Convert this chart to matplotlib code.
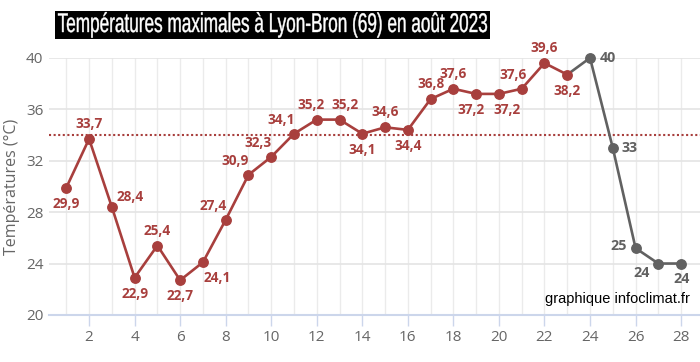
import matplotlib.pyplot as plt
from matplotlib.ticker import MultipleLocator
from matplotlib.textpath import TextPath
from matplotlib.font_manager import FontProperties
from matplotlib.patches import PathPatch, Rectangle
from matplotlib.transforms import Affine2D, IdentityTransform

# observed days (red) and forecast days (grey)
days_obs = list(range(1, 24))
temp_obs = [29.9, 33.7, 28.4, 22.9, 25.4, 22.7, 24.1, 27.4, 30.9, 32.3, 34.1, 35.2,
            35.2, 34.1, 34.6, 34.4, 36.8, 37.6, 37.2, 37.2, 37.6, 39.6, 38.7]
labels_obs = ['29,9', '33,7', '28,4', '22,9', '25,4', '22,7', '24,1', '27,4', '30,9',
              '32,3', '34,1', '35,2', '35,2', '34,1', '34,6', '34,4', '36,8', '37,6',
              '37,2', '37,2', '37,6', '39,6', '38,2']
days_prev = [23, 24, 25, 26, 27, 28]
temp_prev = [38.7, 40, 33, 25.2, 24, 24]
labels_prev = ['40', '33', '25', '24', '24']
threshold = 34
title = 'Températures maximales à Lyon-Bron (69) en août 2023'

red = '#a83f3d'
grey = '#616161'
lab_font = ['Open Sans', 'DejaVu Sans']

# label offsets in pixels (dx, dy)
off_obs = [(0, -16), (0, 15), (18, 10), (0, -16), (0, 15), (0, -16), (14, -16), (-13, 14),
           (-13, 14), (-13, 14), (-13, 14), (-6, 15), (5, 15), (0, -16), (0, 15), (0, -16),
           (0, 15), (0, 15), (-5, -16), (8, -16), (-9, 14), (0, 15), (0, -16)]
off_prev = [(18, 0), (17, 0), (-17, 2), (-17, -9), (0, -15)]

fig = plt.figure(figsize=(7, 3.62), dpi=100)
ax = fig.add_axes([0.07, 0.13, 0.93, 0.71])

ax.axhline(threshold, color=red, ls=(0, (1, 1.2)), lw=1.5, zorder=2)
ax.plot(days_prev, temp_prev, color=grey, lw=1.9, zorder=3, clip_on=False)
ax.plot(days_prev[1:], temp_prev[1:], 'o', color=grey, ms=6.8, zorder=4, clip_on=False)
ax.plot(days_obs, temp_obs, '-o', color=red, lw=1.9, ms=6.8, zorder=5, clip_on=False)

for d, t, s, (dx, dy) in zip(days_obs, temp_obs, labels_obs, off_obs):
    ax.annotate(s, (d, t), xytext=(dx, dy), textcoords='offset pixels', ha='center',
                va='center', color=red, fontsize=9.8, fontweight='bold', family=lab_font,
                zorder=6)
for d, t, s, (dx, dy) in zip(days_prev[1:], temp_prev[1:], labels_prev, off_prev):
    ax.annotate(s, (d, t), xytext=(dx, dy), textcoords='offset pixels', ha='center',
                va='center', color=grey, fontsize=10.3, fontweight='bold', family=lab_font,
                zorder=6)

ax.set_xlim(0.24, 28.83)
ax.set_ylim(20, 40)
ax.set_xticks(range(2, 29, 2))
ax.xaxis.set_minor_locator(MultipleLocator(1))
ax.set_yticks(range(20, 41, 4))
ax.grid(True, which='both', axis='x', color='#ebebeb', lw=1)
ax.grid(True, axis='y', color='#e4e4e4', lw=1.2)
ax.set_axisbelow(True)
for sp in ['top', 'right', 'left']:
    ax.spines[sp].set_visible(False)
ax.spines['bottom'].set_color('#ccd6eb')
ax.spines['bottom'].set_linewidth(1.5)
ax.tick_params(axis='x', which='major', colors='#ccd6eb', length=8, width=1,
               labelcolor='#666666', labelsize=11, pad=3)
ax.tick_params(axis='x', which='minor', length=0)
ax.tick_params(axis='y', length=0, labelcolor='#666666', labelsize=11, pad=4)
for lb in ax.get_xticklabels() + ax.get_yticklabels():
    lb.set_family(lab_font)
ax.set_ylabel('Températures (°C)', color='#666666', fontsize=11.5, labelpad=4,
              family=lab_font)

# title: condensed white text in a black box (pixel coordinates)
tp = TextPath((0, 0), title, size=27, prop=FontProperties(family='Liberation Sans'))
ext = tp.get_extents()
sx = 429 / ext.width
tr = Affine2D().translate(-ext.x0, 0).scale(sx, 1).translate(58, 330)
fig.add_artist(Rectangle((55, 323), 435, 28, transform=IdentityTransform(),
                         facecolor='black', edgecolor='none'))
fig.add_artist(PathPatch(tr.transform_path(tp), transform=IdentityTransform(),
                         facecolor='white', edgecolor='white', lw=0.3))

fig.text(0.986, 0.175, 'graphique infoclimat.fr', ha='right', va='center', fontsize=10.5,
         color='black', family=['Liberation Sans', 'DejaVu Sans'])

fig.savefig('out.png', dpi=100)
